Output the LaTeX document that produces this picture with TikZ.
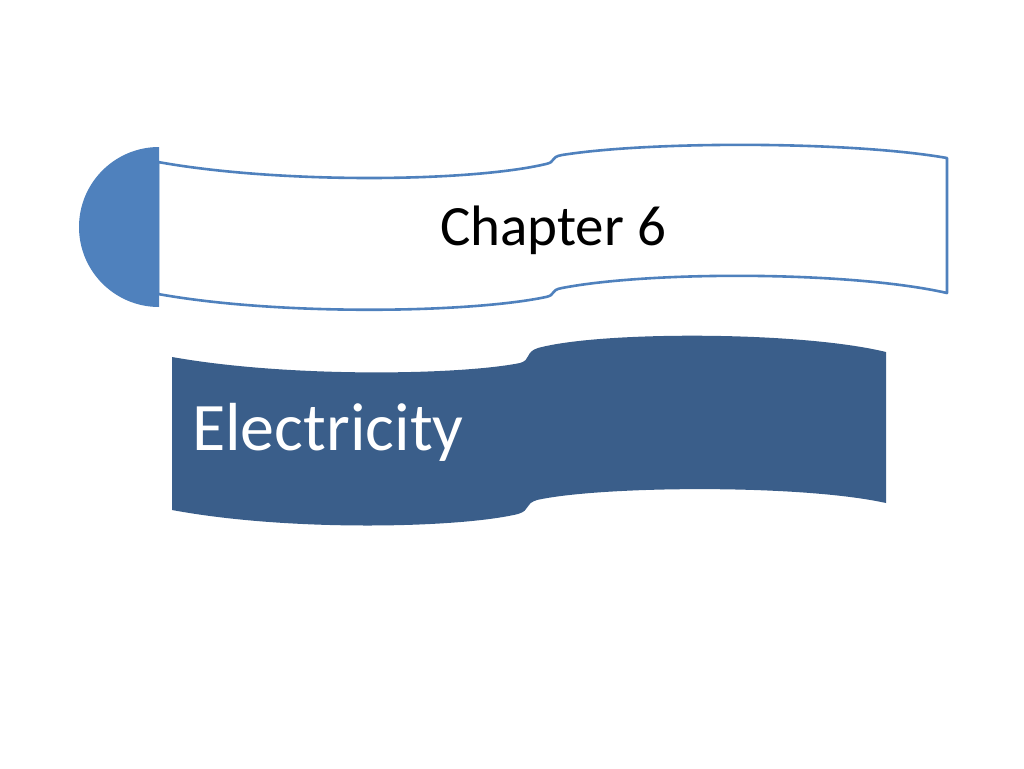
\documentclass[tikz,border=0pt]{standalone}
\usepackage{fontspec}
\setmainfont{Carlito}
\definecolor{accent}{HTML}{4F81BD}
\definecolor{darkblue}{HTML}{3A5E8A}
\tikzset{
  bannerline/.style={draw=accent, line width=2.6pt, fill=white, line join=round},
  darkbanner/.style={fill=darkblue},
  halfdisc/.style={fill=accent},
  label/.style={inner sep=0pt, anchor=base west}
}
\begin{document}
\begin{tikzpicture}[x=1pt,y=-1pt]
\useasboundingbox (0,0) rectangle (1024,768);
% top banner outline
\path[bannerline] (158,162)
  .. controls (280,184) and (470,182) .. (546,164)
  .. controls (556,162) and (550,157) .. (562,155)
  .. controls (650,141) and (850,141) .. (947,158)
  -- (947,293)
  .. controls (850,271) and (650,271) .. (562,288)
  .. controls (550,290) and (556,295) .. (546,297)
  .. controls (470,313) and (280,316) .. (158,294)
  -- cycle;
% half disc on the left
\path[halfdisc] (159,147) arc[start angle=-90, end angle=-270, radius=80] -- cycle;
% lower dark banner
\path[darkbanner] (172,357)
  .. controls (290,378) and (460,375) .. (520,363)
  .. controls (531,360) and (525,352) .. (538,348)
  .. controls (600,331) and (800,331) .. (886,352)
  -- (886,503)
  .. controls (800,484) and (600,486) .. (537,500)
  .. controls (524,504) and (531,510) .. (518,514)
  .. controls (460,528) and (290,532) .. (172,510)
  -- cycle;
\node[label, font=\fontsize{57}{60}\selectfont] (chapter) at (440,245) {Chapter 6};
\node[label, text=white, font=\fontsize{68}{71}\selectfont] (title) at (192,450) {Electricity};
\end{tikzpicture}
\end{document}
